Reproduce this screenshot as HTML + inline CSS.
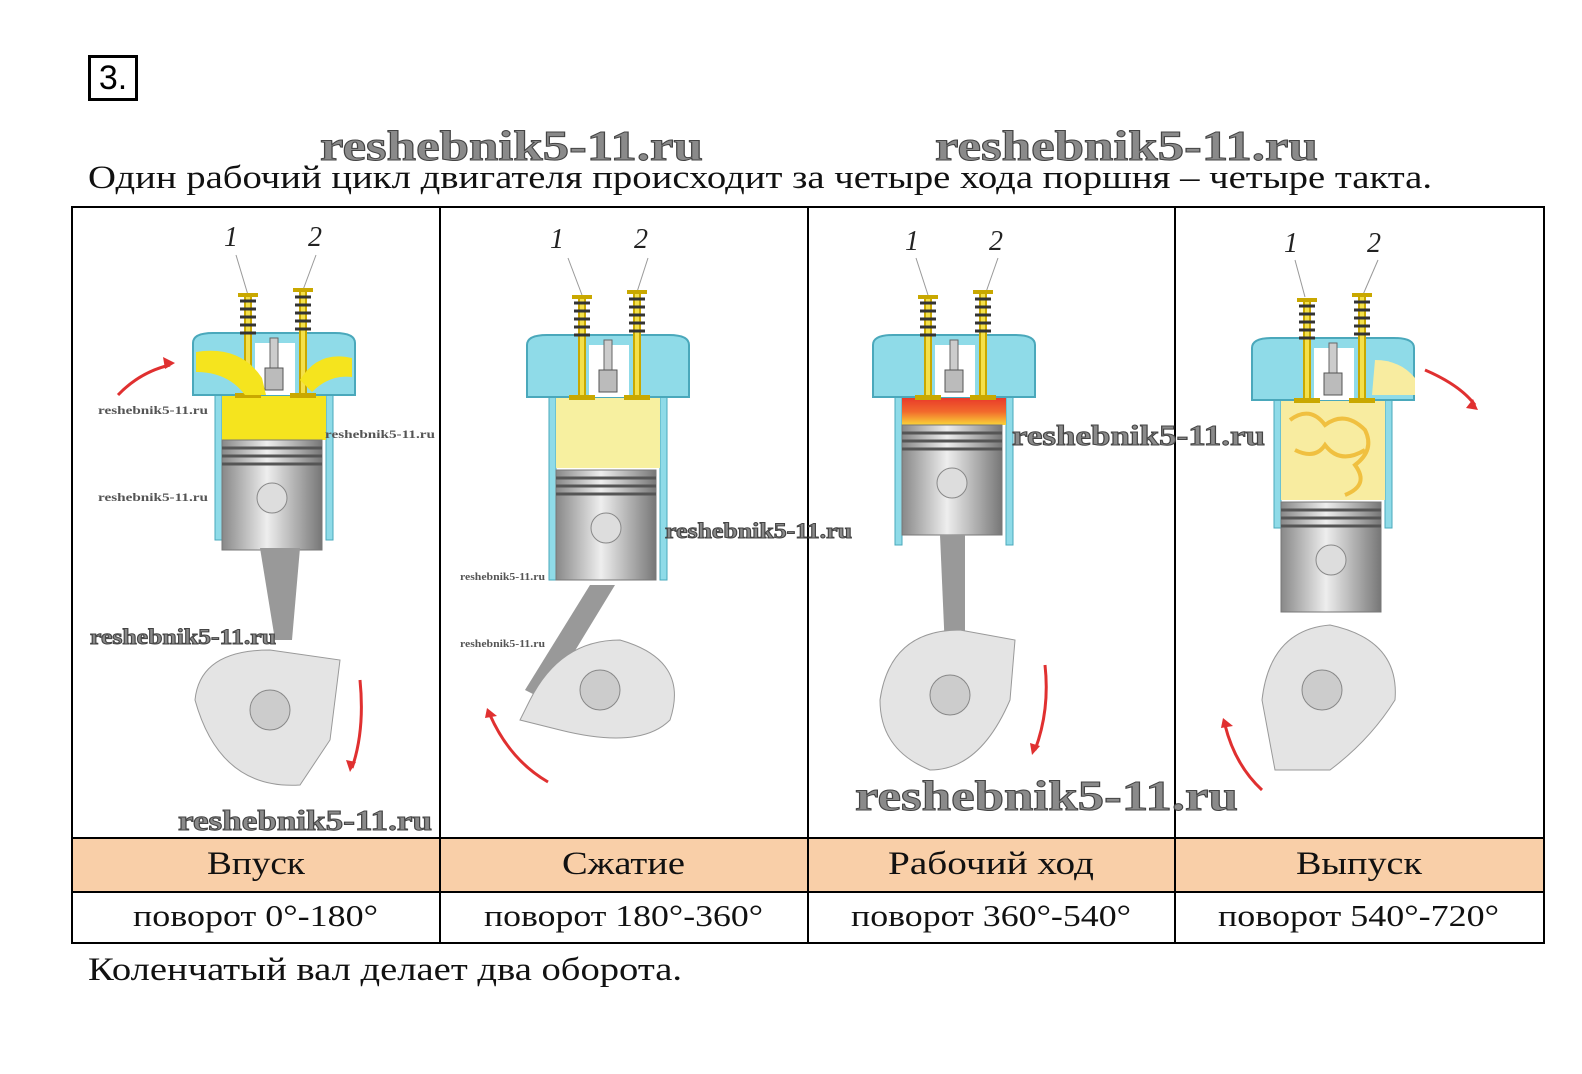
<!DOCTYPE html>
<html><head><meta charset="utf-8"><style>
body{margin:0;width:1582px;height:1074px;background:#fff;overflow:hidden;position:relative;font-family:"Liberation Serif",serif;}
</style></head><body>
<div style="position:absolute;left:88px;top:55px;width:44px;height:40px;border:3px solid #000;font-size:34px;line-height:40px;text-align:center;font-family:'Liberation Sans',sans-serif">3.</div>

<svg style="position:absolute;left:0;top:0" width="1582" height="1074">
<defs>
<linearGradient id="pg" x1="0" x2="1"><stop offset="0" stop-color="#888"/><stop offset=".45" stop-color="#eee"/><stop offset="1" stop-color="#777"/></linearGradient>
<linearGradient id="rg" x1="0" y1="0" x2="0" y2="1"><stop offset="0" stop-color="#e4252a"/><stop offset=".6" stop-color="#f26a2c"/><stop offset="1" stop-color="#f9d438"/></linearGradient>
<g id="head">
 <path d="M0,10 Q0,0 20,0 L142,0 Q162,0 162,10 L162,62 L0,62 Z" fill="#8fdbe8" stroke="#4aa8bb" stroke-width="2"/>
 <rect x="62" y="10" width="40" height="52" fill="#fff"/>
 <line x1="55" y1="-40" x2="55" y2="62" stroke="#c9a800" stroke-width="8"/>
 <line x1="110" y1="-45" x2="110" y2="62" stroke="#c9a800" stroke-width="8"/>
 <line x1="55" y1="-40" x2="55" y2="62" stroke="#f4e04a" stroke-width="4"/>
 <line x1="110" y1="-45" x2="110" y2="62" stroke="#f4e04a" stroke-width="4"/>
 <rect x="45" y="-40" width="20" height="4" fill="#c9a800"/>
 <rect x="100" y="-45" width="20" height="4" fill="#c9a800"/>
 <path d="M47,-32h16M47,-24h16M47,-16h16M47,-8h16M47,0h16M102,-36h16M102,-28h16M102,-20h16M102,-12h16M102,-4h16" stroke="#333" stroke-width="3"/>
 <rect x="77" y="5" width="8" height="30" fill="#ccc" stroke="#666"/>
 <rect x="72" y="35" width="18" height="22" fill="#bbb" stroke="#555"/>
 <rect x="42" y="60" width="26" height="5" fill="#c9a800"/>
 <rect x="97" y="60" width="26" height="5" fill="#c9a800"/>
</g>
<g id="pist">
 <rect x="0" y="0" width="100" height="110" fill="url(#pg)" stroke="#777"/>
 <path d="M0,8h100M0,16h100M0,24h100" stroke="#555" stroke-width="3"/>
 <circle cx="50" cy="58" r="15" fill="#ddd" stroke="#888"/>
</g>
</defs>
<g font-family="Liberation Serif,serif" font-style="italic" font-size="28" fill="#222">
<text x="224" y="246">1</text><text x="308" y="246">2</text>
<text x="550" y="248">1</text><text x="634" y="248">2</text>
<text x="905" y="250">1</text><text x="989" y="250">2</text>
<text x="1284" y="252">1</text><text x="1367" y="252">2</text>
</g>
<g stroke="#999" stroke-width="1">
<line x1="236" y1="255" x2="248" y2="295"/><line x1="316" y1="255" x2="303" y2="290"/>
<line x1="568" y1="258" x2="582" y2="295"/><line x1="648" y1="258" x2="637" y2="292"/>
<line x1="916" y1="258" x2="928" y2="295"/><line x1="998" y1="258" x2="985" y2="295"/>
<line x1="1295" y1="260" x2="1305" y2="297"/><line x1="1378" y1="260" x2="1362" y2="297"/>
</g>

<!-- engine 1 -->
<path d="M215,395V540h7V395M326,395V540h7V395" fill="#8fdbe8" stroke="#4aa8bb"/>
<rect x="222" y="395" width="104" height="45" fill="#f5e41e"/>
<use href="#head" x="193" y="333"/>
<path d="M196,352 Q240,345 262,378 L266,395 L245,395 Q228,372 196,372Z M352,358 Q318,350 300,380 L312,392 Q330,374 352,377Z" fill="#f5e41e"/>
<use href="#pist" x="222" y="440"/>
<path d="M260,548 L300,548 L292,640 L275,640Z" fill="#999"/>
<path d="M195,700 Q200,650 270,650 L340,660 L330,740 L300,785 Q220,790 195,700Z" fill="#e4e4e4" stroke="#999"/>
<circle cx="270" cy="710" r="20" fill="#ccc" stroke="#888"/>
<!-- engine 2 -->
<path d="M549,392V580h7V392M660,392V580h7V392" fill="#8fdbe8" stroke="#4aa8bb"/>
<rect x="556" y="392" width="104" height="76" fill="#f7f0a0"/>
<use href="#head" x="527" y="335"/>
<use href="#pist" x="556" y="470"/>
<path d="M590,585 L615,585 L545,700 L525,690Z" fill="#999"/>
<path d="M530,700 Q560,640 620,640 Q690,660 670,720 Q640,750 560,730 L520,720Z" fill="#e4e4e4" stroke="#999"/>
<circle cx="600" cy="690" r="20" fill="#ccc" stroke="#888"/>
<!-- engine 3 -->
<path d="M895,392V545h7V392M1006,392V545h7V392" fill="#8fdbe8" stroke="#4aa8bb"/>
<rect x="902" y="392" width="104" height="33" fill="url(#rg)"/>
<use href="#head" x="873" y="335"/>
<use href="#pist" x="902" y="425"/>
<path d="M940,535 L965,535 L965,650 L945,650Z" fill="#999"/>
<path d="M880,700 Q890,630 960,630 L1015,640 L1010,700 Q980,770 930,770 Q880,750 880,700Z" fill="#e4e4e4" stroke="#999"/>
<circle cx="950" cy="695" r="20" fill="#ccc" stroke="#888"/>
<!-- engine 4 -->
<path d="M1274,395V528h7V395M1385,395V528h7V395" fill="#8fdbe8" stroke="#4aa8bb"/>
<rect x="1281" y="395" width="104" height="105" fill="#f8eca0"/>
<path d="M1290,420q20,-15 35,5q20,-15 40,5q10,20 -10,35q15,20 -10,30M1295,450q20,10 30,-5q15,20 40,5" fill="none" stroke="#f0c040" stroke-width="4"/>
<use href="#head" x="1252" y="338"/>
<path d="M1375,360 Q1400,360 1415,378 L1415,395 L1372,395Z" fill="#f8eca0"/>
<use href="#pist" x="1281" y="502"/>
<path d="M1262,700 Q1270,630 1330,625 Q1400,640 1395,700 Q1370,740 1330,770 L1275,770Z" fill="#e4e4e4" stroke="#999"/>
<circle cx="1322" cy="690" r="20" fill="#ccc" stroke="#888"/>
<!-- red arrows -->
<g fill="none" stroke="#e03030" stroke-width="3">
<path d="M118,395 Q140,372 170,365"/><path d="M360,680 Q365,730 352,768"/>
<path d="M548,782 Q510,760 490,715"/><path d="M1045,665 Q1050,710 1035,750"/>
<path d="M1425,370 Q1460,385 1475,405"/><path d="M1262,790 Q1235,765 1225,725"/>
</g>
<g fill="#e03030">
<path d="M175,363l-12,-6l2,12Z"/><path d="M350,772l-4,-12l10,2Z"/>
<path d="M487,708l10,8l-12,2Z"/><path d="M1032,755l-2,-12l10,3Z"/>
<path d="M1478,410l-12,-2l7,-9Z"/><path d="M1223,718l10,8l-12,2Z"/>
</g>
<!-- table -->
<rect x="73" y="838" width="1470" height="54" fill="#f9cfa8"/>
<g stroke="#000" stroke-width="2" fill="none">
<rect x="72" y="207" width="1472" height="736"/>
<line x1="72" y1="838" x2="1544" y2="838"/><line x1="72" y1="892" x2="1544" y2="892"/>
<line x1="440" y1="207" x2="440" y2="943"/><line x1="808" y1="207" x2="808" y2="943"/><line x1="1175" y1="207" x2="1175" y2="943"/>
</g>
<g font-family="Liberation Serif,serif" font-size="33" fill="#111" lengthAdjust="spacingAndGlyphs">
<text x="88" y="188" textLength="1344" lengthAdjust="spacingAndGlyphs">Один рабочий цикл двигателя происходит за четыре хода поршня – четыре такта.</text>
<text x="88" y="980" textLength="594" lengthAdjust="spacingAndGlyphs">Коленчатый вал делает два оборота.</text>
<text x="207" y="874" textLength="98" lengthAdjust="spacingAndGlyphs">Впуск</text>
<text x="562" y="874" textLength="123" lengthAdjust="spacingAndGlyphs">Сжатие</text>
<text x="888" y="874" textLength="206" lengthAdjust="spacingAndGlyphs">Рабочий ход</text>
<text x="1296" y="874" textLength="126" lengthAdjust="spacingAndGlyphs">Выпуск</text>
<text x="133" y="926" font-size="31" textLength="245" lengthAdjust="spacingAndGlyphs">поворот 0°-180°</text>
<text x="484" y="926" font-size="31" textLength="279" lengthAdjust="spacingAndGlyphs">поворот 180°-360°</text>
<text x="851" y="926" font-size="31" textLength="280" lengthAdjust="spacingAndGlyphs">поворот 360°-540°</text>
<text x="1218" y="926" font-size="31" textLength="281" lengthAdjust="spacingAndGlyphs">поворот 540°-720°</text>
</g>
<g font-family="Liberation Serif,serif" font-weight="bold" fill="#8a8a8a" stroke="#444" stroke-width="1">
<text x="320" y="160" font-size="42" textLength="383" lengthAdjust="spacingAndGlyphs">reshebnik5-11.ru</text>
<text x="935" y="160" font-size="42" textLength="383" lengthAdjust="spacingAndGlyphs">reshebnik5-11.ru</text>
<text x="90" y="644" font-size="22" textLength="186" lengthAdjust="spacingAndGlyphs">reshebnik5-11.ru</text>
<text x="178" y="830" font-size="28" textLength="254" lengthAdjust="spacingAndGlyphs">reshebnik5-11.ru</text>
<text x="665" y="538" font-size="22" textLength="187" lengthAdjust="spacingAndGlyphs">reshebnik5-11.ru</text>
<text x="1012" y="445" font-size="28" textLength="253" lengthAdjust="spacingAndGlyphs">reshebnik5-11.ru</text>
<text x="855" y="810" font-size="42" textLength="383" lengthAdjust="spacingAndGlyphs">reshebnik5-11.ru</text>
</g>
<g font-family="Liberation Serif,serif" font-weight="bold" fill="#555">
<text x="98" y="414" font-size="12" textLength="110" lengthAdjust="spacingAndGlyphs">reshebnik5-11.ru</text>
<text x="98" y="501" font-size="12" textLength="110" lengthAdjust="spacingAndGlyphs">reshebnik5-11.ru</text>
<text x="325" y="438" font-size="12" textLength="110" lengthAdjust="spacingAndGlyphs">reshebnik5-11.ru</text>
<text x="460" y="580" font-size="10" textLength="85" lengthAdjust="spacingAndGlyphs">reshebnik5-11.ru</text>
<text x="460" y="647" font-size="10" textLength="85" lengthAdjust="spacingAndGlyphs">reshebnik5-11.ru</text>
</g>
</svg>
</body></html>
